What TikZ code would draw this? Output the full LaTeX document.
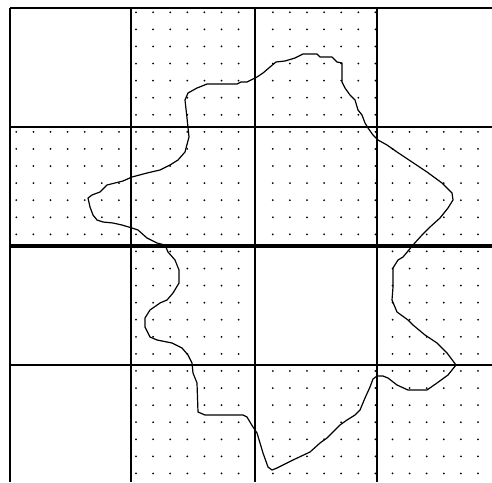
\documentclass[tikz,border=0pt]{standalone}
\usepackage{tikz}
\usepackage{xcolor}

\begin{document}
\begin{tikzpicture}[x=1pt,y=-1pt,
        gridline/.style={line width=1.8pt},
        midline/.style={line width=3.4pt},
        dotpt/.style={fill=black},
        blob/.style={line width=1.2pt,line join=round}]
        \useasboundingbox (0,0) rectangle (492,482);
        \clip (0,0) rectangle (492,482);
        \foreach \kx/\jy in {7/0,15/0,0/7,7/7,15/7,22/7,7/14,22/14,7/21,15/21,22/21}
            \foreach \i in {0,...,6}
                \foreach \j in {0,...,6}
                    \fill[dotpt] ({16.3+17.1*(\kx+\i)},{12.3+17.08*(\jy+\j)}) circle (1);
        \foreach \gx in {10,131,255,377}
            \draw[gridline] (\gx,8) -- (\gx,482);
        \foreach \gy in {8,127,365}
            \draw[gridline] (10,\gy) -- (492,\gy);
        \draw[midline] (10,246) -- (492,246);
        \draw[blob] (185,100) -- (188,93) -- (197,88) -- (207,84) -- (237,84) -- (241,82) -- (247,82)
            -- (253,79) -- (257,77) -- (263,73) -- (270,67) -- (276,62) -- (285,61) -- (295,58)
            -- (303,54) -- (317,54) -- (320,57) -- (332,57) -- (337,62) -- (342,63) -- (342,82)
            -- (345,88) -- (350,95) -- (355,100) -- (358,110) -- (362,115) -- (365,123) -- (368,128)
            -- (373,135) -- (378,140) -- (387,145) -- (397,152) -- (409,160) -- (427,172) -- (442,183)
            -- (452,193) -- (453,200) -- (448,208) -- (440,218) -- (430,227) -- (422,235) -- (413,245)
            -- (403,257) -- (398,260) -- (393,268) -- (393,287) -- (392,300) -- (397,312) -- (408,320)
            -- (413,325) -- (425,335) -- (437,343) -- (447,353) -- (456,365) -- (448,375) -- (437,383)
            -- (427,390) -- (408,390) -- (397,385) -- (388,378) -- (383,376) -- (377,376) -- (373,379)
            -- (370,387) -- (365,398) -- (360,410) -- (355,415) -- (347,420) -- (340,425) -- (327,438)
            -- (320,443) -- (310,452) -- (293,460) -- (277,468) -- (272,470) -- (268,467) -- (263,453)
            -- (260,443) -- (257,433) -- (253,427) -- (247,417) -- (243,415) -- (205,415) -- (198,412)
            -- (197,383) -- (193,373) -- (192,363) -- (188,355) -- (182,348) -- (172,343) -- (157,340)
            -- (150,337) -- (145,327) -- (145,318) -- (150,310) -- (160,303) -- (167,300) -- (173,293)
            -- (179,283) -- (179,270) -- (175,260) -- (168,252) -- (165,245) -- (157,243) -- (147,238)
            -- (138,230) -- (132,228) -- (122,225) -- (113,223) -- (103,222) -- (97,220) -- (93,215)
            -- (90,207) -- (88,198) -- (92,195) -- (100,192) -- (107,185) -- (115,183) -- (123,181)
            -- (132,177) -- (147,173) -- (160,170) -- (170,165) -- (178,160) -- (185,152) -- (189,137)
            -- (187,118) -- cycle;
    \end{tikzpicture}
\end{document}
